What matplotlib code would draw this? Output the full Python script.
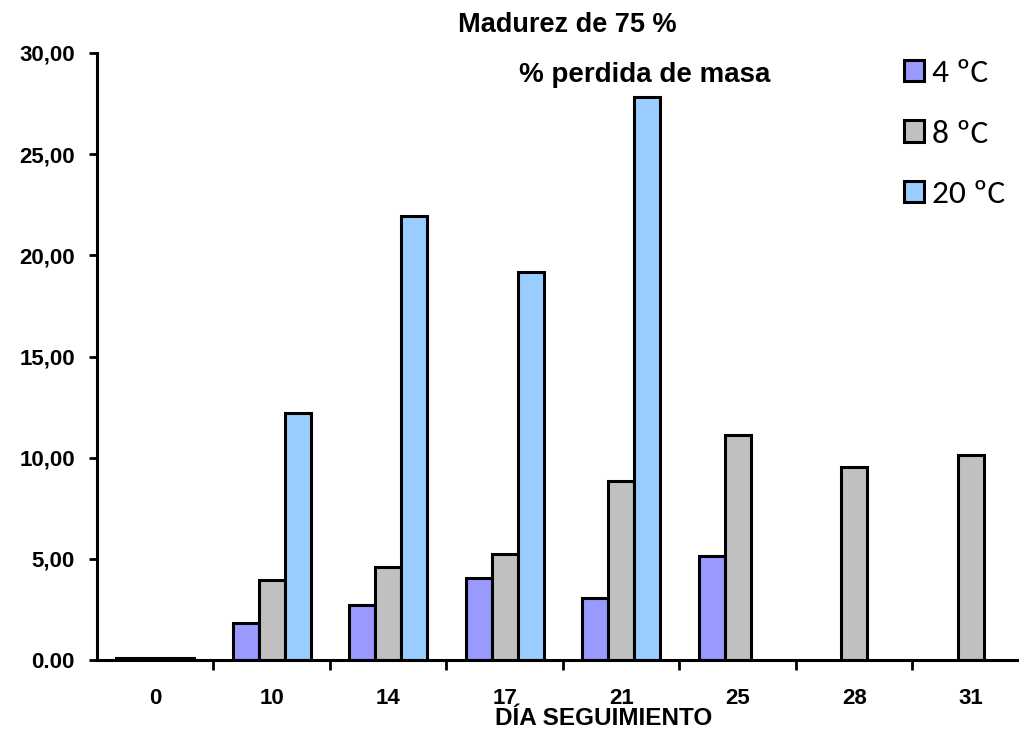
import matplotlib
import matplotlib.pyplot as plt
import numpy as np

matplotlib.use('agg')

# Días de seguimiento y % de pérdida de masa por temperatura
dias = ['0', '10', '14', '17', '21', '25', '28', '31']
perdida_4 = [0.1, 1.83, 2.72, 4.05, 3.06, 5.15, np.nan, np.nan]
perdida_8 = [0.1, 3.97, 4.60, 5.24, 8.85, 11.12, 9.54, 10.13]
perdida_20 = [0.1, 12.20, 21.95, 19.18, 27.83, np.nan, np.nan, np.nan]

series = [
    ('4 ºC', perdida_4, '#9999ff'),
    ('8 ºC', perdida_8, '#c0c0c0'),
    ('20 ºC', perdida_20, '#99ccff'),
]
etiquetas_y = ['0.00', '5,00', '10,00', '15,00', '20,00', '25,00', '30,00']

fig = plt.figure(figsize=(10.19, 7.31), dpi=100)
ax = fig.add_axes([0.0952, 0.0971, 0.9048, 0.8304])

x = np.arange(len(dias))
ancho = 0.222
handles = []
for i, (nombre, valores, color) in enumerate(series):
    b = ax.bar(x + (i - 1) * ancho, valores, ancho, color=color,
               edgecolor='black', linewidth=2.2, label=nombre)
    handles.append(b)

ax.set_xlim(-0.5, 7.415)
ax.set_ylim(0, 30)
ax.set_yticks(np.arange(0, 31, 5))
ax.set_yticklabels(etiquetas_y, fontsize=16, fontweight='bold',
                   family='Liberation Sans')
ax.set_xticks(x)
ax.set_xticklabels(dias, fontsize=16, fontweight='bold', family='Liberation Sans')
ax.tick_params(axis='x', which='major', length=0, pad=20)
ax.set_xticks(np.arange(0.5, 7.5, 1), minor=True)
ax.tick_params(axis='x', which='minor', length=7, width=2, direction='out')
ax.tick_params(axis='y', length=6, width=2, direction='out', pad=10)

for lado in ['top', 'right']:
    ax.spines[lado].set_visible(False)
ax.spines['left'].set_linewidth(2.2)
ax.spines['bottom'].set_linewidth(2.2)

fig.text(0.557, 0.966, 'Madurez de 75 %', ha='center', va='center',
         fontsize=19.5, fontweight='bold', family='Liberation Sans')
fig.text(0.633, 0.897, '% perdida de masa', ha='center', va='center',
         fontsize=20, fontweight='heavy', family='Liberation Sans')
fig.text(0.592, 0.017, 'DÍA SEGUIMIENTO', ha='center', va='center',
         fontsize=17.5, fontweight='heavy', family='Liberation Sans')

leg = fig.legend(handles=handles, loc='upper left', bbox_to_anchor=(0.874, 0.937),
                 frameon=False, prop={'family': 'Carlito', 'size': 24},
                 handlelength=0.6, handleheight=0.6, handletextpad=0.25,
                 labelspacing=0.97, borderaxespad=0)

plt.savefig('out.png', dpi=100)
